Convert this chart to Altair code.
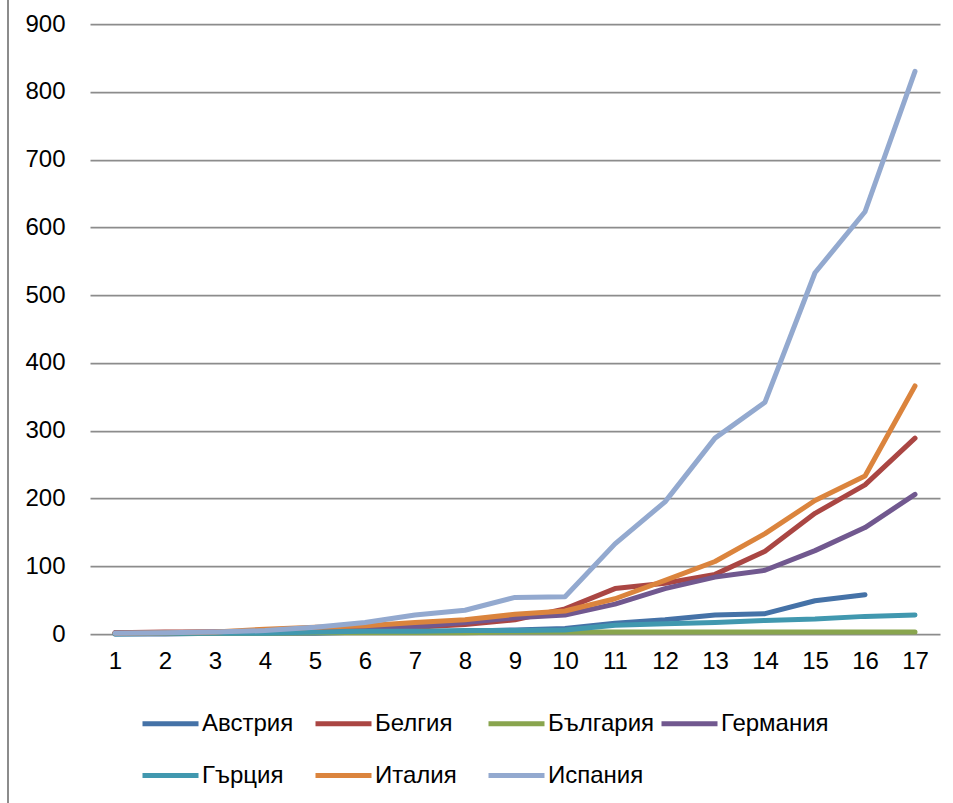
import altair as alt
import pandas as pd

days = list(range(1, 18))
series = ["Австрия", "Белгия", "България", "Германия", "Гърция", "Италия", "Испания"]
colors = ["#4572A7", "#AA4643", "#89A54E", "#71588F", "#4198AF", "#DB843D", "#93A9CF"]

austria  = [0, 0, 1, 1, 1, 3, 3, 4, 6, 8, 16, 21, 28, 30, 49, 58]  # 16 days only
belgium  = [2, 3, 3, 4, 4, 5, 10, 14, 21, 37, 67, 75, 88, 122, 178, 220, 289]
bulgaria = [1, 1, 1, 1, 2, 2, 2, 2, 3, 3, 3, 3, 3, 3, 3, 3, 3]
germany  = [2, 2, 3, 3, 7, 9, 11, 17, 24, 28, 44, 67, 84, 94, 123, 157, 206]
greece   = [0, 1, 1, 1, 3, 4, 4, 5, 5, 6, 13, 15, 17, 20, 22, 26, 28]
italy    = [1, 2, 3, 7, 10, 12, 17, 21, 29, 34, 52, 79, 107, 148, 197, 233, 366]
spain    = [1, 2, 3, 5, 10, 17, 28, 35, 54, 55, 133, 195, 289, 342, 533, 623, 830]

values = [austria, belgium, bulgaria, germany, greece, italy, spain]
rows = []
for name, vals in zip(series, values):
    for d, v in zip(days, vals):
        rows.append({"day": str(d), "country": name, "value": v, "order": series.index(name)})
df = pd.DataFrame(rows)

FONT = "Liberation Sans"
FS = 24

lines = alt.Chart(df).mark_line(strokeWidth=5, strokeCap="round", strokeJoin="round").encode(
    x=alt.X("day:O", sort=[str(d) for d in days],
            scale=alt.Scale(type="point", padding=0.5),
            axis=alt.Axis(title=None, labelAngle=0, ticks=False, tickSize=0, domain=False,
                          grid=False, labelPadding=15, labelFontSize=FS, labelFont=FONT,
                          labelColor="#000000")),
    y=alt.Y("value:Q", scale=alt.Scale(domain=[0, 900], nice=False),
            axis=alt.Axis(title=None, values=list(range(0, 1000, 100)), ticks=False, tickSize=0,
                          domain=False, grid=True, gridColor="#8c8c8c", gridWidth=1.75,
                          labelPadding=25, labelFontSize=FS, labelFont=FONT,
                          labelColor="#000000")),
    color=alt.Color("country:N", scale=alt.Scale(domain=series, range=colors),
                    legend=alt.Legend(title=None, orient="none", legendX=50, legendY=669,
                                      direction="horizontal", columns=4, gridAlign="all",
                                      symbolType="stroke", symbolSize=3136, symbolStrokeWidth=5,
                                      labelFont=FONT, labelFontSize=FS, labelColor="#000000",
                                      labelOffset=1, columnPadding=-5, rowPadding=9)),
    order=alt.Order("order:Q"),
    detail="country:N",
)

frame = alt.Chart(pd.DataFrame({"a": [0]})).mark_rule(color="#8c8c8c", strokeWidth=2).encode(
    x=alt.value(-82), y=alt.value(-30), y2=alt.value(800)
)

chart = alt.layer(frame, lines).properties(
    width=850, height=610,
    padding={"left": 90, "top": 24, "right": 13, "bottom": 169},
    autosize=alt.AutoSizeParams(type="none"),
    background="#ffffff",
).configure_view(stroke=None)

chart.save("out.html", embed_options={"renderer": "svg", "actions": False})
